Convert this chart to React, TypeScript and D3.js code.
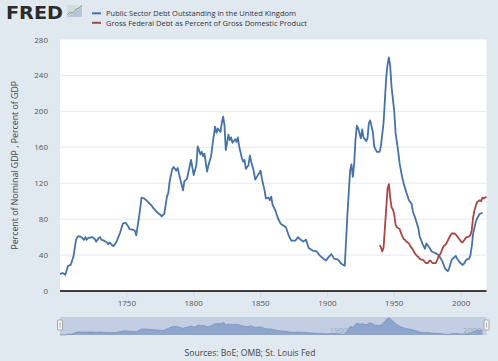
import React from 'react';
import * as d3 from 'd3';

// Public Sector Debt Outstanding in the United Kingdom (% of nominal GDP)
const ukYears = [
  1700, 1702, 1704, 1706, 1708, 1710, 1712, 1713, 1714, 1716, 1718, 1719, 1720, 1721, 1724, 1726, 1727,
  1729, 1730, 1731, 1733, 1735, 1736, 1737, 1739, 1740, 1742, 1745, 1747, 1749, 1751, 1752, 1755, 1756,
  1757, 1759, 1761, 1763, 1766, 1768, 1770, 1773, 1775, 1776, 1778, 1780, 1781, 1782, 1784, 1785, 1787,
  1788, 1790, 1792, 1793, 1795, 1798, 1800, 1802, 1803, 1804, 1805, 1806, 1807, 1808, 1810, 1811, 1813,
  1814, 1816, 1817, 1818, 1820, 1821, 1822, 1823, 1824, 1826, 1827, 1828, 1829, 1831, 1832, 1833, 1834,
  1836, 1837, 1838, 1839, 1841, 1842, 1843, 1845, 1846, 1848, 1850, 1851, 1853, 1854, 1856, 1857, 1858,
  1859, 1861, 1863, 1865, 1867, 1869, 1871, 1873, 1876, 1878, 1880, 1882, 1884, 1886, 1889, 1892, 1894,
  1897, 1899, 1901, 1903, 1905, 1908, 1910, 1912, 1913, 1915, 1917, 1918, 1919, 1920, 1921, 1922, 1923,
  1925, 1926, 1927, 1929, 1930, 1931, 1932, 1934, 1935, 1937, 1939, 1940, 1942, 1944, 1945, 1946, 1947,
  1948, 1950, 1951, 1953, 1954, 1956, 1957, 1959, 1961, 1963, 1964, 1966, 1968, 1969, 1971, 1973, 1974,
  1976, 1978, 1981, 1983, 1984, 1986, 1988, 1990, 1991, 1993, 1996, 1997, 1999, 2001, 2002, 2004, 2006,
  2007, 2008, 2009, 2011, 2012, 2014, 2016,
];
const ukDebt = [
  19, 20, 18, 28, 29, 38, 57, 60, 61, 60, 57, 60, 57, 59, 60, 58, 55,
  59, 60, 57, 56, 54, 52, 54, 51, 50, 54, 65, 75, 76, 72, 69, 68, 67,
  62, 81, 104, 103, 99, 96, 92, 87, 85, 83, 86, 105, 109, 122, 136, 138, 134,
  137, 124, 112, 122, 125, 146, 129, 140, 161, 157, 152, 155, 150, 153, 133, 140, 150,
  162, 183, 176, 181, 177, 187, 194, 185, 157, 174, 168, 171, 165, 169, 166, 171, 161,
  148, 144, 146, 136, 140, 151, 144, 133, 124, 129, 134, 125, 112, 103, 104, 101, 105,
  96, 90, 81, 75, 73, 71, 62, 56, 56, 60, 57, 55, 57, 48, 45, 44, 40,
  36, 34, 38, 41, 36, 35, 31, 29, 28, 86, 134, 141, 127, 141, 168, 184, 181,
  170, 180, 171, 167, 170, 187, 190, 177, 161, 155, 155, 161, 187, 238, 252, 260, 250,
  227, 200, 176, 155, 142, 126, 120, 110, 101, 97, 88, 80, 70, 61, 53, 47, 53,
  49, 44, 42, 40, 38, 33, 25, 22, 25, 35, 39, 36, 32, 29, 30, 35, 36,
  40, 50, 64, 77, 81, 86, 87,
];

// Gross Federal Debt as Percent of Gross Domestic Product (annual, 1939-2019)
const usYears = d3.range(1939, 2020);
const usDebt = [
  51, 49, 44, 48, 70, 92, 114, 119, 104, 93, 91, 85, 74, 71, 70, 69, 65, 61, 58, 57,
  55, 54, 53, 50, 48, 46, 43, 41, 39, 38, 36, 35, 35, 34, 32, 31, 31, 33, 34, 32,
  31, 31, 31, 34, 38, 40, 43, 47, 50, 51, 53, 56, 59, 62, 64, 64, 64, 63, 61, 59,
  57, 55, 54, 56, 58, 60, 60, 61, 62, 68, 82, 90, 95, 99, 100, 101, 100, 104, 103, 104,
  105,
];

const yTicks = [0, 40, 80, 120, 160, 200, 240, 280];
const xTicks = [1750, 1800, 1850, 1900, 1950, 2000];
const navTicks = [1800, 1900, 2000];

const seriesNames = [
  'Public Sector Debt Outstanding in the United Kingdom',
  'Gross Federal Debt as Percent of Gross Domestic Product',
];
const seriesColors = ['#4572a7', '#aa4643'];
const legendWidths = [190, 201];

const yTitle = 'Percent of Nominal GDP , Percent of GDP';
const sourceText = 'Sources: BoE; OMB; St. Louis Fed';

const W = 498;
const H = 361;
const margin = { top: 39.5, right: 11.5, bottom: 70, left: 60 };
const font = '"Open Sans", "DejaVu Sans", sans-serif';

export default function App() {
  const plotRight = W - margin.right;
  const plotBottom = H - margin.bottom;

  const x = d3.scaleLinear().domain([1700, 2019]).range([margin.left, plotRight]);
  const y = d3.scaleLinear().domain([0, 280]).range([plotBottom, margin.top]);

  const uk = ukYears.map((yr, i) => [yr, ukDebt[i]] as [number, number]);
  const us = usYears.map((yr, i) => [yr, usDebt[i]] as [number, number]);

  const line = d3
    .line<[number, number]>()
    .x(d => x(d[0]))
    .y(d => y(d[1]));

  // navigator strip
  const navTop = 317;
  const navBottom = 335;
  const ny = d3
    .scaleLinear()
    .domain([d3.min(ukDebt) as number, d3.max(ukDebt) as number])
    .range([navBottom, navTop + 1]);
  const navArea = d3
    .area<[number, number]>()
    .x(d => x(d[0]))
    .y0(navBottom)
    .y1(d => ny(d[1]));
  const navLine = d3
    .line<[number, number]>()
    .x(d => x(d[0]))
    .y(d => ny(d[1]));

  const handle = (cx: number) => (
    <g>
      <rect x={cx - 2.5} y={320} width={5} height={10} fill="#f2f2f2" stroke="#999" strokeWidth={0.8} rx={0.5} />
      <line x1={cx} x2={cx} y1={322.5} y2={327.5} stroke="#999" strokeWidth={0.7} />
    </g>
  );

  return (
    <svg
      width={W}
      height={H}
      style={{ position: 'absolute', left: 0, top: 0 }}
      fontFamily={font}
    >
      <rect width={W} height={H} fill="#e1e9f0" />

      {/* logo */}
      <text x={6} y={18.5} fontSize={17} fontWeight={900} fill="#2b2b2b" textLength={57} lengthAdjust="spacingAndGlyphs"
        fontFamily='"DejaVu Sans", sans-serif'>
        FRED
      </text>
      <rect x={67} y={5} width={15} height={12} fill="#d3dbe6" />
      <path d="M67,17 L70,13 L73,14 L76,10 L79,9 L82,5 L82,17 Z" fill="#b7c6d9" />
      <polyline points="67,15 70,12 73,13 76,9 79,8 82,5" fill="none" stroke="#8ab07a" strokeWidth={1} />

      {/* legend */}
      {seriesNames.map((name, i) => (
        <g key={name} transform={`translate(0,${i * 9.5})`}>
          <line x1={92} x2={101} y1={13.3} y2={13.3} stroke={seriesColors[i]} strokeWidth={2} />
          <text x={106} y={16} fontSize={7.6} fill="#333" textLength={legendWidths[i]} lengthAdjust="spacingAndGlyphs">
            {name}
          </text>
        </g>
      ))}

      {/* plot area */}
      <rect x={margin.left} y={margin.top} width={plotRight - margin.left} height={plotBottom - margin.top} fill="#fff" />
      {yTicks.slice(1, -1).map(t => (
        <line key={t} x1={margin.left} x2={plotRight} y1={y(t)} y2={y(t)} stroke="#e6e9ee" strokeWidth={1} />
      ))}

      {yTicks.map(t => (
        <text key={t} x={48} y={y(t) + 3} fontSize={8} textAnchor="end" fill="#555">
          {t}
        </text>
      ))}
      <text
        transform={`translate(18,${(margin.top + plotBottom) / 2}) rotate(-90)`}
        textAnchor="middle"
        fontSize={8.8}
        fill="#444"
      >
        {yTitle}
      </text>

      {xTicks.map(t => (
        <g key={t}>
          <line x1={x(t)} x2={x(t)} y1={plotBottom} y2={plotBottom + 6} stroke="#ccd6eb" strokeWidth={1} />
          <text x={x(t)} y={306} fontSize={8} textAnchor="middle" fill="#555">
            {t}
          </text>
        </g>
      ))}

      <path d={line(uk) ?? ''} fill="none" stroke={seriesColors[0]} strokeWidth={1.8} strokeLinejoin="round" />
      <path d={line(us) ?? ''} fill="none" stroke={seriesColors[1]} strokeWidth={1.8} strokeLinejoin="round" />
      <line x1={margin.left} x2={plotRight} y1={plotBottom} y2={plotBottom} stroke="#000" strokeWidth={1.6} />

      {/* navigator */}
      <rect x={margin.left} y={navTop} width={plotRight - margin.left} height={navBottom - navTop} fill="#c3cee2" />
      <path d={navArea(uk) ?? ''} fill="#8ea5cc" />
      <path d={navLine(uk) ?? ''} fill="none" stroke="#7590c0" strokeWidth={0.8} />
      {navTicks.map(t => (
        <text key={t} x={x(t) + 2} y={333} fontSize={8} fill="#9aa8bf">
          {t}
        </text>
      ))}
      {handle(margin.left)}
      {handle(plotRight)}

      <text x={250} y={356} fontSize={8.6} textAnchor="middle" fill="#444">
        {sourceText}
      </text>
    </svg>
  );
}
